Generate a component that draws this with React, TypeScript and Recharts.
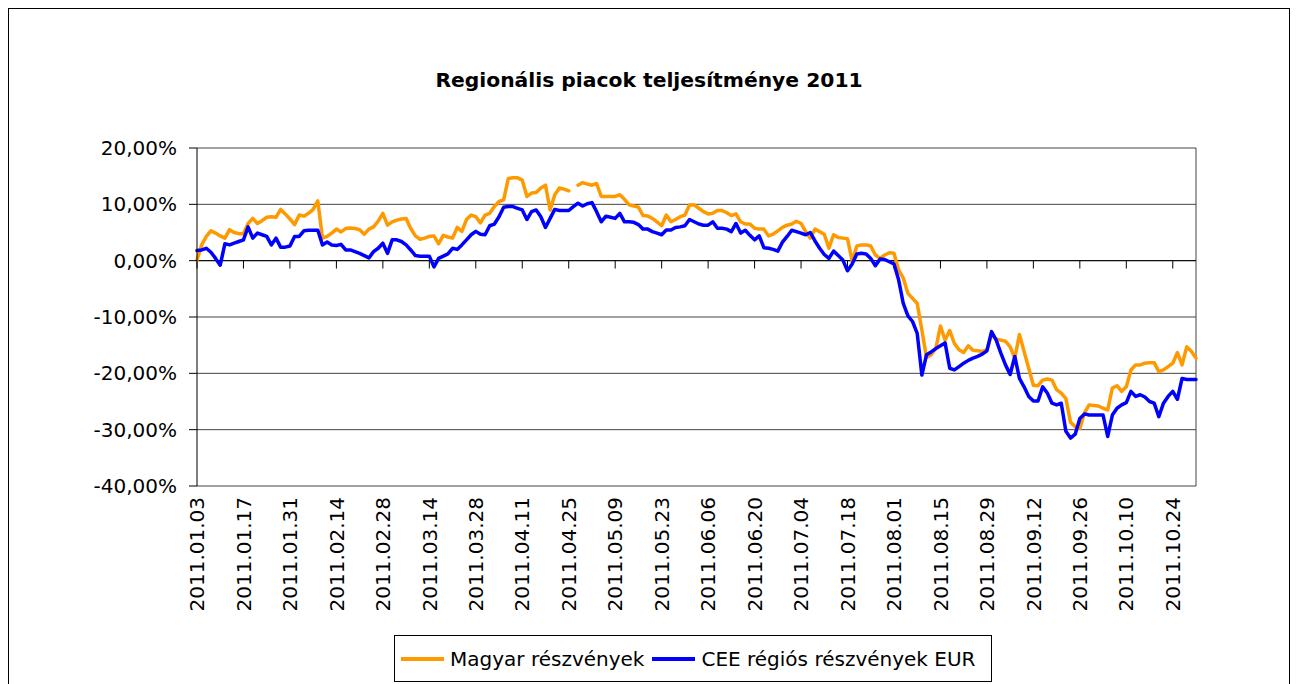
import React from 'react';
import { LineChart, Line, XAxis, YAxis, CartesianGrid, ReferenceLine, Legend } from 'recharts';

const title = 'Regionális piacok teljesítménye 2011';
const seriesNames = ['Magyar részvények', 'CEE régiós részvények EUR'];
const ORANGE = '#FF9900';
const BLUE = '#0000FF';
const seriesColors = [ORANGE, BLUE];

const dates = [
  '2011.01.03','2011.01.04','2011.01.05','2011.01.06','2011.01.07',
  '2011.01.10','2011.01.11','2011.01.12','2011.01.13','2011.01.14',
  '2011.01.17','2011.01.18','2011.01.19','2011.01.20','2011.01.21',
  '2011.01.24','2011.01.25','2011.01.26','2011.01.27','2011.01.28',
  '2011.01.31','2011.02.01','2011.02.02','2011.02.03','2011.02.04',
  '2011.02.07','2011.02.08','2011.02.09','2011.02.10','2011.02.11',
  '2011.02.14','2011.02.15','2011.02.16','2011.02.17','2011.02.18',
  '2011.02.21','2011.02.22','2011.02.23','2011.02.24','2011.02.25',
  '2011.02.28','2011.03.01','2011.03.02','2011.03.03','2011.03.04',
  '2011.03.07','2011.03.08','2011.03.09','2011.03.10','2011.03.11',
  '2011.03.14','2011.03.15','2011.03.16','2011.03.17','2011.03.18',
  '2011.03.21','2011.03.22','2011.03.23','2011.03.24','2011.03.25',
  '2011.03.28','2011.03.29','2011.03.30','2011.03.31','2011.04.01',
  '2011.04.04','2011.04.05','2011.04.06','2011.04.07','2011.04.08',
  '2011.04.11','2011.04.12','2011.04.13','2011.04.14','2011.04.15',
  '2011.04.18','2011.04.19','2011.04.20','2011.04.21','2011.04.22',
  '2011.04.25','2011.04.26','2011.04.27','2011.04.28','2011.04.29',
  '2011.05.02','2011.05.03','2011.05.04','2011.05.05','2011.05.06',
  '2011.05.09','2011.05.10','2011.05.11','2011.05.12','2011.05.13',
  '2011.05.16','2011.05.17','2011.05.18','2011.05.19','2011.05.20',
  '2011.05.23','2011.05.24','2011.05.25','2011.05.26','2011.05.27',
  '2011.05.30','2011.05.31','2011.06.01','2011.06.02','2011.06.03',
  '2011.06.06','2011.06.07','2011.06.08','2011.06.09','2011.06.10',
  '2011.06.13','2011.06.14','2011.06.15','2011.06.16','2011.06.17',
  '2011.06.20','2011.06.21','2011.06.22','2011.06.23','2011.06.24',
  '2011.06.27','2011.06.28','2011.06.29','2011.06.30','2011.07.01',
  '2011.07.04','2011.07.05','2011.07.06','2011.07.07','2011.07.08',
  '2011.07.11','2011.07.12','2011.07.13','2011.07.14','2011.07.15',
  '2011.07.18','2011.07.19','2011.07.20','2011.07.21','2011.07.22',
  '2011.07.25','2011.07.26','2011.07.27','2011.07.28','2011.07.29',
  '2011.08.01','2011.08.02','2011.08.03','2011.08.04','2011.08.05',
  '2011.08.08','2011.08.09','2011.08.10','2011.08.11','2011.08.12',
  '2011.08.15','2011.08.16','2011.08.17','2011.08.18','2011.08.19',
  '2011.08.22','2011.08.23','2011.08.24','2011.08.25','2011.08.26',
  '2011.08.29','2011.08.30','2011.08.31','2011.09.01','2011.09.02',
  '2011.09.05','2011.09.06','2011.09.07','2011.09.08','2011.09.09',
  '2011.09.12','2011.09.13','2011.09.14','2011.09.15','2011.09.16',
  '2011.09.19','2011.09.20','2011.09.21','2011.09.22','2011.09.23',
  '2011.09.26','2011.09.27','2011.09.28','2011.09.29','2011.09.30',
  '2011.10.03','2011.10.04','2011.10.05','2011.10.06','2011.10.07',
  '2011.10.10','2011.10.11','2011.10.12','2011.10.13','2011.10.14',
  '2011.10.17','2011.10.18','2011.10.19','2011.10.20','2011.10.21',
  '2011.10.24','2011.10.25','2011.10.26','2011.10.27','2011.10.28',
  '2011.10.31',
];

// Magyar részvények (%)
const magyar: (number | null)[] = [
  0.1, 2.8, 4.3, 5.3, 4.9,
  4.4, 4.0, 5.5, 5.0, 4.8,
  4.8, 6.6, 7.5, 6.6, 7.1,
  7.7, 7.8, 7.7, 9.1, 8.3,
  7.4, 6.4, 8.1, 7.9, 8.4,
  9.1, 10.6, 4.0, 4.3, 4.9,
  5.6, 5.1, 5.7, 5.8, 5.7,
  5.5, 4.7, 5.6, 6.0, 7.0,
  8.4, 6.3, 6.9, 7.2, 7.4,
  7.5, 5.7, 4.4, 3.8, 4.0,
  4.3, 4.4, 3.0, 4.5, 4.2,
  4.0, 5.9, 5.2, 7.3, 8.1,
  7.8, 6.7, 8.1, 8.4, 9.6,
  10.5, 10.8, 14.6, 14.7, 14.7,
  14.3, 11.4, 12.0, 12.1, 12.9,
  13.4, 9.0, 11.7, 12.9, 12.7,
  12.4, null, 13.4, 13.85, 13.6,
  13.4, 13.7, 11.4, 11.4, 11.4,
  11.4, 11.7, 10.9, 9.9, 9.7,
  9.5, 8.0, 7.95, 7.5, 6.9,
  6.2, 8.1, 6.9, 7.3, 7.8,
  8.1, 9.9, 9.9, 9.3, 8.7,
  8.3, 8.4, 8.9, 8.9, 8.5,
  8.0, 8.3, 6.9, 6.5, 6.5,
  5.75, 5.6, 5.6, 4.4, 4.7,
  5.3, 5.9, 6.3, 6.5, 7.0,
  6.6, 5.15, 4.0, 5.6, 5.15,
  4.7, 2.2, 4.6, 4.1, 4.0,
  3.9, -0.1, 2.6, 2.8, 2.8,
  2.6, 1.0, 0.4, 1.0, 1.4,
  1.3, -1.65, -3.1, -5.8, -6.7,
  -7.6, -12.3, -17.2, -16.7, -15.6,
  -11.6, -14.1, -12.4, -14.7, -15.8,
  -16.3, -15.1, -15.9, -16.0, -16.1,
  -15.8, -13.2, -13.9, -14.1, -14.3,
  -15.3, -17.3, -13.1, -16.1, -19.1,
  -22.1, -22.2, -21.2, -21.0, -21.2,
  -22.9, -23.5, -24.5, -28.7, -29.5,
  -29.8, -27.0, -25.6, -25.7, -25.8,
  -26.2, -26.5, -22.6, -22.2, -23.2,
  -22.4, -19.4, -18.5, -18.5, -18.2,
  -18.1, -18.1, -19.7, -19.4, -18.8,
  -18.2, -16.3, -18.5, -15.3, -16.1,
  -17.3,
];

// CEE régiós részvények EUR (%)
const cee: (number | null)[] = [
  1.8, 1.9, 2.2, 1.5, 0.4,
  -0.8, 3.0, 2.8, 3.1, 3.4,
  3.7, 6.0, 4.0, 4.9, 4.6,
  4.3, 2.8, 4.0, 2.4, 2.4,
  2.6, 4.3, 4.3, 5.3, 5.4,
  5.4, 5.4, 2.8, 3.3, 2.8,
  2.7, 2.9, 1.9, 1.9, 1.6,
  1.3, 0.9, 0.5, 1.6, 2.2,
  3.1, 1.3, 3.7, 3.7, 3.4,
  2.8, 1.9, 0.9, 0.8, 0.8,
  0.8, -1.1, 0.4, 0.8, 1.2,
  2.2, 2.0, 2.8, 3.7, 4.6,
  5.2, 4.7, 4.6, 6.2, 6.5,
  7.8, 9.5, 9.6, 9.6, 9.3,
  9.0, 7.3, 8.7, 9.0, 7.8,
  5.9, 7.5, 9.1, 8.9, 8.9,
  8.9, 9.6, 10.2, 9.7, 10.1,
  10.3, 8.7, 6.9, 7.9, 7.7,
  7.5, 8.4, 6.9, 6.9, 6.8,
  6.4, 5.6, 5.6, 5.15, 4.9,
  4.6, 5.45, 5.45, 5.9, 6.0,
  6.2, 7.3, 6.9, 6.5, 6.3,
  6.3, 6.9, 5.75, 5.75, 5.6,
  5.15, 6.6, 4.9, 5.4, 4.5,
  3.7, 4.4, 2.3, 2.2, 2.0,
  1.7, 3.3, 4.3, 5.4, 5.15,
  4.9, 4.6, 5.0, 3.5, 2.2,
  1.1, 0.4, 1.7, 0.9, 0.1,
  -1.8, -0.6, 1.2, 1.3, 1.2,
  0.4, -0.9, 0.3, 0.2, -0.2,
  -0.6, -3.4, -7.6, -9.8, -10.8,
  -12.9, -20.3, -16.7, -16.2, -15.6,
  -15.1, -14.6, -19.1, -19.4, -18.8,
  -18.2, -17.7, -17.3, -17.0, -16.6,
  -16.0, -12.6, -14.1, -16.4, -18.5,
  -20.2, -17.0, -20.9, -22.4, -24.1,
  -24.9, -24.9, -22.4, -23.5, -25.3,
  -25.6, -25.3, -30.3, -31.5, -30.8,
  -28.0, -27.2, -27.4, -27.4, -27.4,
  -27.4, -31.2, -27.4, -26.2, -25.6,
  -25.2, -23.2, -24.1, -23.8, -24.2,
  -25.0, -25.3, -27.7, -25.3, -24.1,
  -23.2, -24.6, -20.9, -21.1, -21.1,
  -21.1,
];

const yTicks = [-40, -30, -20, -10, 0, 10, 20];

const data = dates.map((d, i) => ({ date: d, magyar: magyar[i], cee: cee[i] }));
const labelDates = dates.filter((_, i) => i % 10 === 0);

const FONT = '"DejaVu Sans", Arial, sans-serif';

const formatPct = (v: number) => `${v},00%`;

const XTick = (props: any) => {
  const { x, y, payload } = props;
  return (
    <text
      x={x}
      y={y}
      transform={`rotate(-90, ${x}, ${y})`}
      textAnchor="end"
      dy="0.36em"
      fontSize={20}
      fontFamily={FONT}
      fill="#000"
    >
      {payload.value}
    </text>
  );
};

const renderLegend = () => (
  <div
    style={{
      boxSizing: 'border-box',
      width: 598,
      height: 47,
      border: '1px solid #000',
      background: '#fff',
      display: 'flex',
      alignItems: 'center',
      paddingLeft: 6,
      fontFamily: FONT,
      fontSize: 20,
      color: '#000',
      whiteSpace: 'nowrap',
    }}
  >
    {seriesNames.map((name, idx) => (
      <React.Fragment key={name}>
        <span
          style={{
            display: 'inline-block',
            width: 43,
            height: 4,
            background: seriesColors[idx],
            marginLeft: idx === 0 ? 0 : 8,
            marginRight: 6,
          }}
        />
        <span>{name}</span>
      </React.Fragment>
    ))}
  </div>
);

export default function App() {
  return (
    <div
      style={{
        position: 'relative',
        width: 1282,
        height: 690,
        border: '1px solid #000',
        boxSizing: 'border-box',
        background: '#fff',
      }}
    >
      <div
        style={{
          position: 'absolute',
          left: 0,
          top: 58,
          width: '100%',
          height: 26,
          lineHeight: '26px',
          textAlign: 'center',
          fontFamily: FONT,
          fontWeight: 'bold',
          fontSize: 20.3,
          color: '#000',
          zIndex: 2,
        }}
      >
        {title}
      </div>
      <LineChart
        width={1280}
        height={688}
        data={data}
        margin={{ top: 139, right: 93, bottom: 81, left: 88 }}
      >
        <CartesianGrid vertical={false} stroke="#444" strokeWidth={1} />
        <XAxis
          dataKey="date"
          interval={9}
          tick={<XTick />}
          tickLine={false}
          axisLine={false}
          tickSize={0}
          tickMargin={11}
          height={130}
        />
        <YAxis
          domain={[-40, 20]}
          ticks={yTicks}
          interval={0}
          tickFormatter={formatPct}
          width={100}
          tickSize={8}
          tickMargin={12}
          axisLine={{ stroke: '#000', strokeWidth: 1 }}
          tickLine={{ stroke: '#000', strokeWidth: 1 }}
          tick={{ fontSize: 20, fontFamily: FONT, fill: '#000' }}
        />
        <ReferenceLine x={dates[dates.length - 1]} stroke="#444" strokeWidth={1} />
        <ReferenceLine y={0} stroke="#000" strokeWidth={1} />
        {labelDates.map((d) => (
          <ReferenceLine
            key={d}
            segment={[{ x: d, y: 0 }, { x: d, y: -1.4 }]}
            stroke="#000"
            strokeWidth={1}
          />
        ))}
        <Line
          type="linear"
          dataKey="magyar"
          name={seriesNames[0]}
          stroke={ORANGE}
          strokeWidth={3.5}
          strokeLinejoin="round"
          strokeLinecap="round"
          dot={false}
          activeDot={false}
          connectNulls={false}
          isAnimationActive={false}
        />
        <Line
          type="linear"
          dataKey="cee"
          name={seriesNames[1]}
          stroke={BLUE}
          strokeWidth={3.5}
          strokeLinejoin="round"
          strokeLinecap="round"
          dot={false}
          activeDot={false}
          isAnimationActive={false}
        />
        <Legend
          layout="horizontal"
          align="center"
          verticalAlign="middle"
          content={renderLegend}
          wrapperStyle={{ left: 385, top: 626, bottom: 'auto', right: 'auto', width: 598, height: 47 }}
        />
      </LineChart>
    </div>
  );
}
